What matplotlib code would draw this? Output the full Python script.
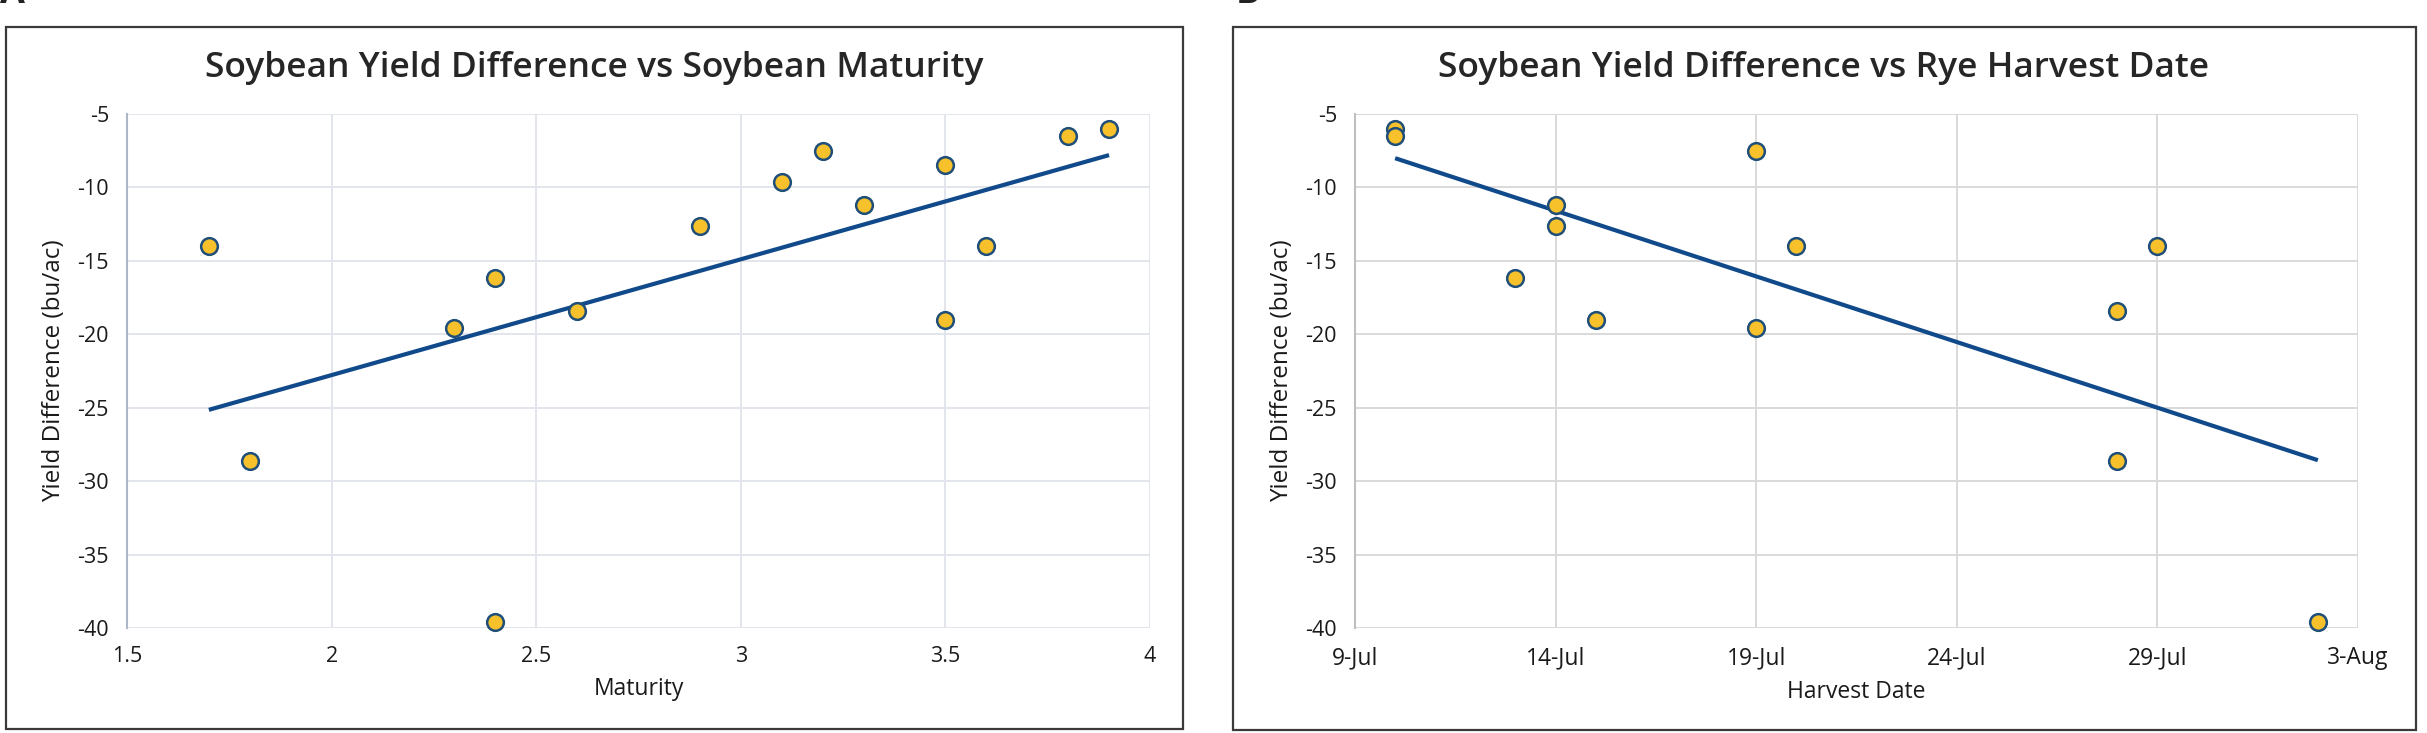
import numpy as np
import matplotlib
matplotlib.use("Agg")
import matplotlib.pyplot as plt
import matplotlib.dates as mdates
from matplotlib.patches import Rectangle
from datetime import date

plt.rcParams['font.family'] = ['Open Sans', 'DejaVu Sans']

# panel A: maturity vs yield difference
maturity = [1.7, 1.8, 2.3, 2.4, 2.4, 2.6, 2.9, 3.1, 3.2, 3.3, 3.5, 3.5, 3.6, 3.8, 3.9]
yield_a = [-14.0, -28.6, -19.6, -16.2, -39.6, -18.4, -12.6, -9.6, -7.5, -11.2,
           -8.5, -19.0, -14.0, -6.5, -6.0]

# panel B: rye harvest date vs yield difference
harvest = ["2021-07-10", "2021-07-10", "2021-07-13", "2021-07-14", "2021-07-14",
           "2021-07-15", "2021-07-19", "2021-07-19", "2021-07-20", "2021-07-28",
           "2021-07-28", "2021-07-29", "2021-08-02"]
yield_b = [-6.0, -6.5, -16.2, -11.2, -12.6, -19.0, -7.5, -19.6, -14.0, -18.4,
           -28.6, -14.0, -39.6]

y_ticks = [-5, -10, -15, -20, -25, -30, -35, -40]
x_ticks_a = [1.5, 2, 2.5, 3, 3.5, 4]
x_tick_labels_a = ["1.5", "2", "2.5", "3", "3.5", "4"]

W, H = 2427, 733
fig = plt.figure(figsize=(W / 100, H / 100), dpi=100)

yellow = "#F6C12B"
navy = "#1F4E79"
trend_c = "#114A8A"
text_c = "#1A1A1A"


def box(x0, y0, x1, y1):
    fig.patches.append(Rectangle((x0 / W, 1 - y1 / H), (x1 - x0) / W, (y1 - y0) / H,
                                 transform=fig.transFigure, fill=False,
                                 edgecolor="#3A3A3A", linewidth=1.6))


def style(ax, grid_c, spine_c):
    ax.set_ylim(-40, -5)
    ax.set_yticks(y_ticks)
    ax.set_yticklabels([str(t) for t in y_ticks])
    ax.grid(True, color=grid_c, linewidth=1.4)
    ax.set_axisbelow(True)
    for s in ["top", "right", "bottom"]:
        ax.spines[s].set_visible(False)
    ax.spines["left"].set_color(spine_c)
    ax.spines["left"].set_linewidth(1.5)
    ax.tick_params(length=0, pad=13, labelsize=15.5, labelcolor=text_c)
    ax.set_ylabel("Yield Difference (bu/ac)", fontsize=17.5, color=text_c, labelpad=8)


# panel A
box(6, 27, 1183, 729)
axA = fig.add_axes([127 / W, 1 - 628 / H, (1150 - 127) / W, (628 - 114) / H])
axA.set_xlim(1.5, 4)
axA.set_xticks(x_ticks_a)
axA.set_xticklabels(x_tick_labels_a)
style(axA, "#E2E5EB", "#AEB7C8")
ma = np.array(maturity)
ya = np.array(yield_a)
k, b = np.polyfit(ma, ya, 1)
xs = np.array([ma.min(), ma.max()])
axA.plot(xs, k * xs + b, color=trend_c, linewidth=3, solid_capstyle="butt", zorder=2)
axA.plot(ma, ya, "o", markersize=12, markerfacecolor=yellow, markeredgecolor=navy,
         markeredgewidth=1.8, zorder=3, clip_on=False)
axA.set_xlabel("Maturity", fontsize=16.5, color=text_c, labelpad=7)
fig.text(594 / W, 1 - 77 / H, "Soybean Yield Difference vs Soybean Maturity",
         ha="center", va="baseline", fontsize=25.5, color="#262626", fontweight="semibold")

# panel B
box(1233, 27, 2416, 730)
axB = fig.add_axes([1355 / W, 1 - 628 / H, (2358 - 1355) / W, (628 - 114) / H])
hd = np.array([mdates.date2num(date.fromisoformat(d)) for d in harvest])
yb = np.array(yield_b)
axB.set_xlim(mdates.date2num(date(2021, 7, 9)), mdates.date2num(date(2021, 8, 3)))
axB.xaxis.set_major_locator(mdates.DayLocator(bymonthday=[9, 14, 19, 24, 29, 3]))
axB.xaxis.set_major_formatter(mdates.DateFormatter("%-d-%b"))
style(axB, "#D9D9D9", "#BFBFBF")
axB.tick_params(axis="x", labelsize=16.5)
k2, b2 = np.polyfit(hd, yb, 1)
xs2 = np.array([hd.min(), hd.max()])
axB.plot(xs2, k2 * xs2 + b2, color=trend_c, linewidth=3, solid_capstyle="butt", zorder=2)
axB.plot(hd, yb, "o", markersize=12, markerfacecolor=yellow, markeredgecolor=navy,
         markeredgewidth=1.8, zorder=3, clip_on=False)
axB.set_xlabel("Harvest Date", fontsize=16.5, color=text_c, labelpad=7)
fig.text(1824 / W, 1 - 77 / H, "Soybean Yield Difference vs Rye Harvest Date",
         ha="center", va="baseline", fontsize=25.5, color="#262626", fontweight="semibold")

# panel letters, cut off at the top edge as in the source figure
fig.text(0 / W, 1 - 3 / H, "A", ha="left", va="baseline", fontsize=26,
         fontweight="bold", color="#222222")
fig.text(1236 / W, 1 - 3 / H, "B", ha="left", va="baseline", fontsize=26,
         fontweight="bold", color="#222222")

fig.savefig("out.png", dpi=100)
